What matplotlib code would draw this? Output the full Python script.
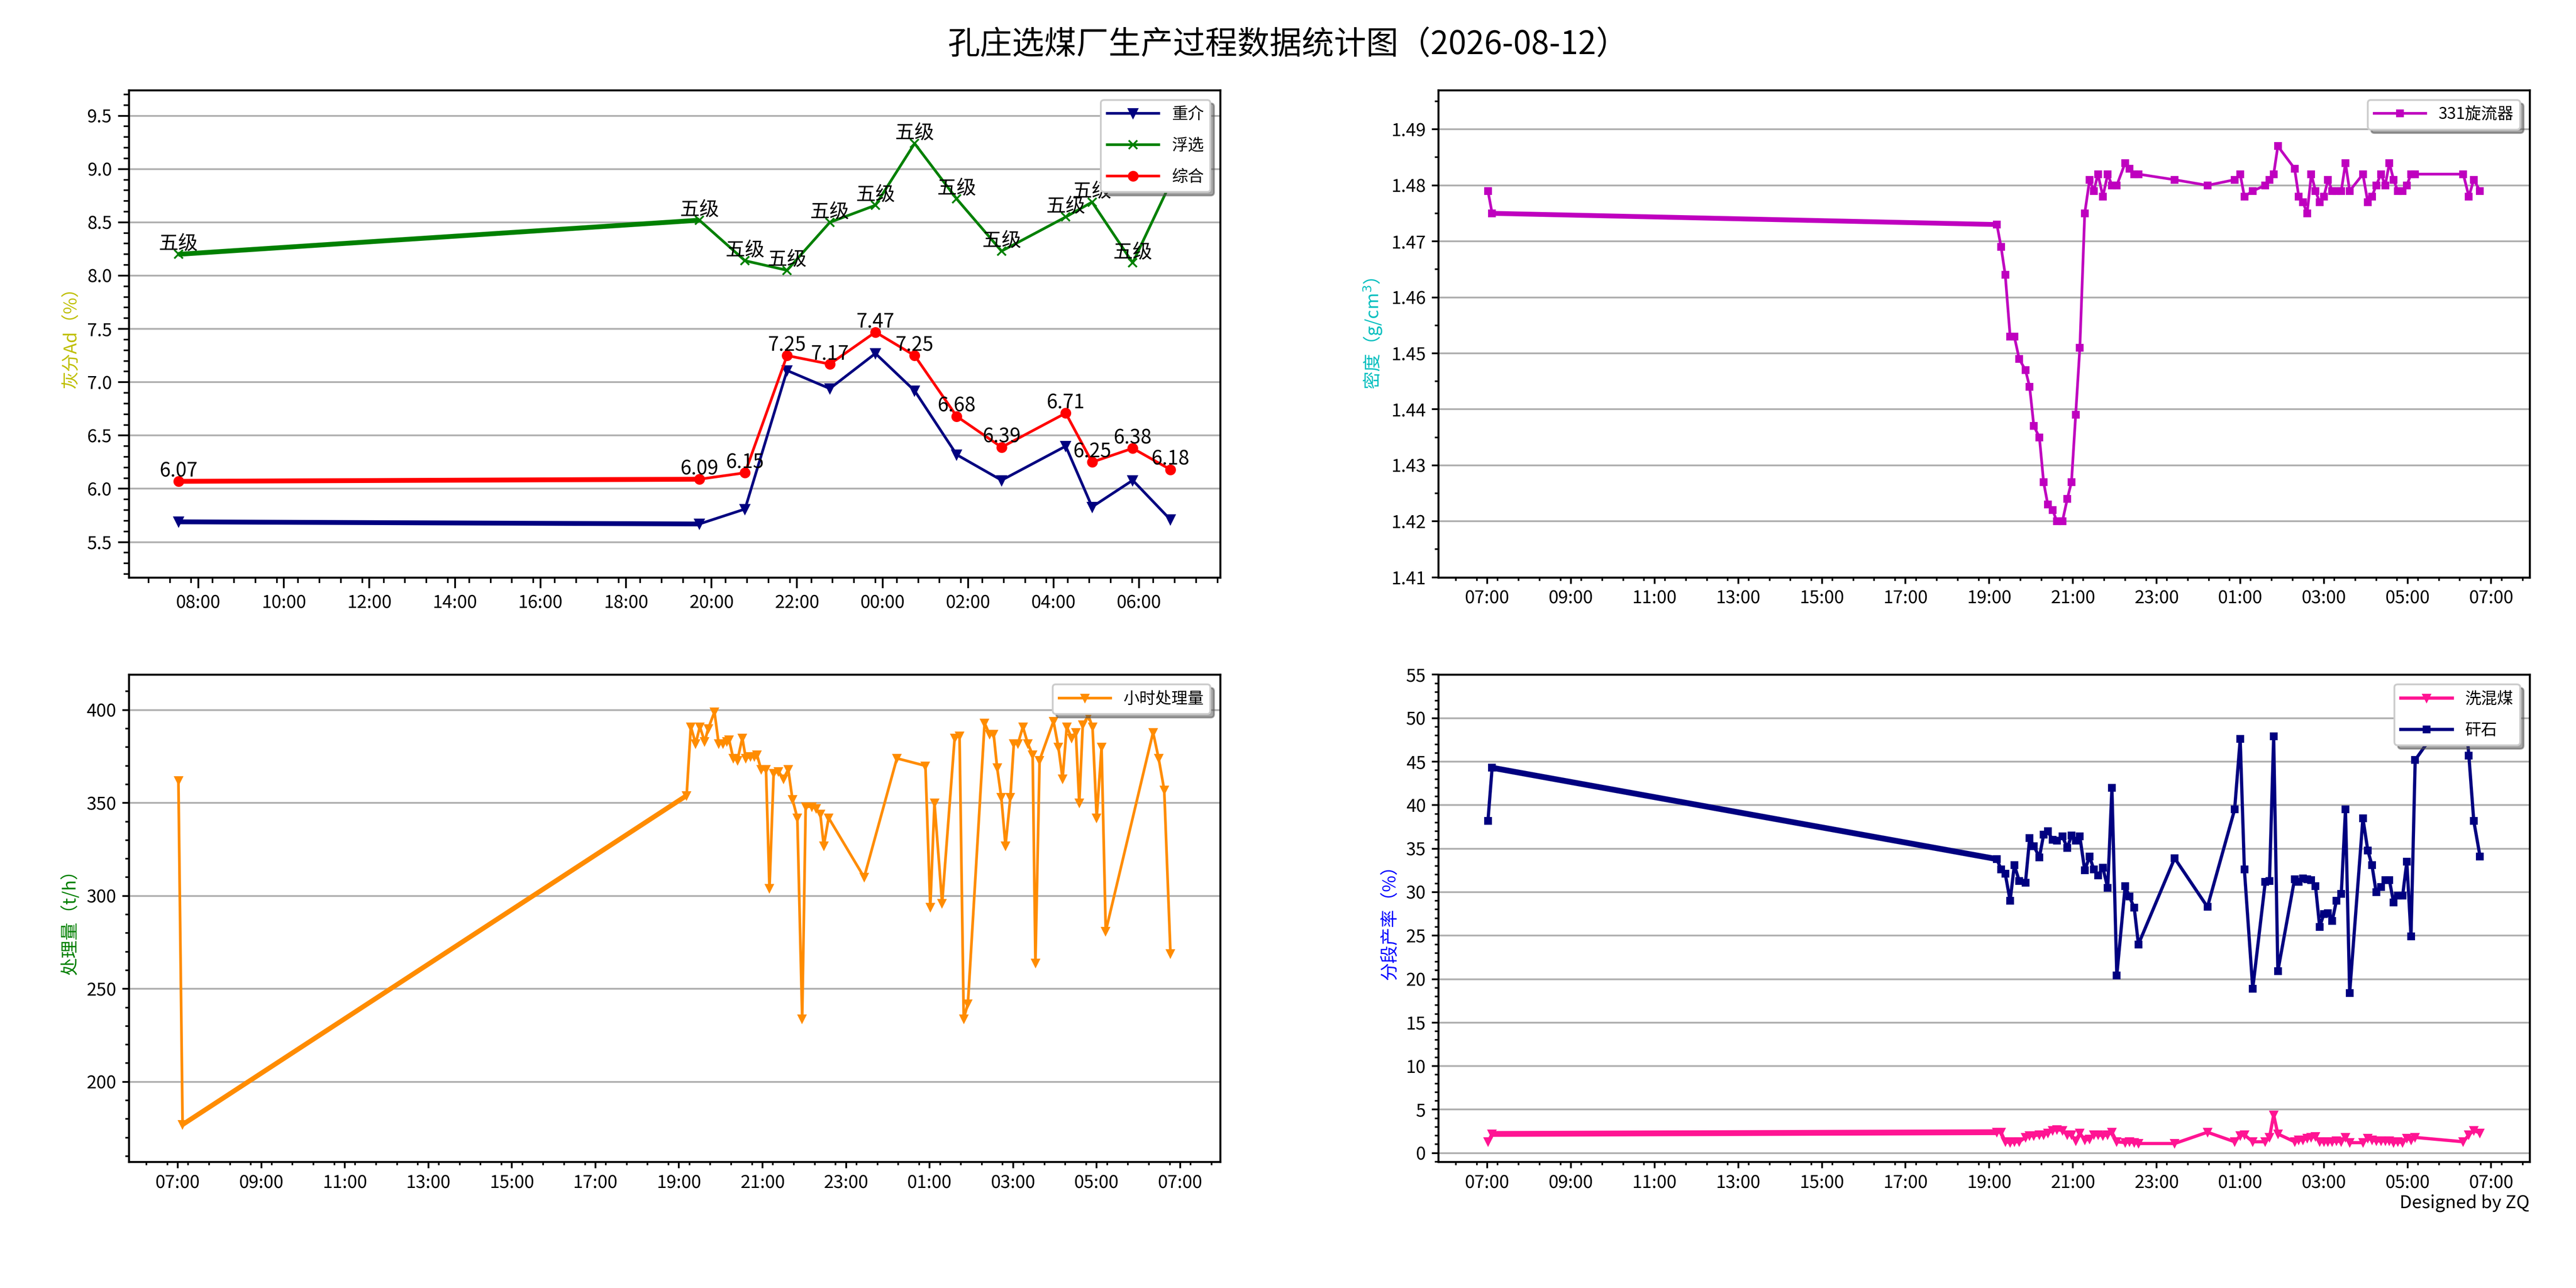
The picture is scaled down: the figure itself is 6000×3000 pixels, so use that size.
from datetime import datetime, timedelta

import matplotlib

matplotlib.use("Agg")
import matplotlib.dates as mdates
import matplotlib.pyplot as plt
from matplotlib.ticker import AutoMinorLocator, MultipleLocator

plt.rcParams["font.family"] = ["Noto Sans CJK SC", "DejaVu Sans"]
plt.rcParams["axes.unicode_minus"] = False

TITLE = "孔庄选煤厂生产过程数据统计图（2026-08-12）"
START_DAY = "2026-08-11"

# ---- 灰分 (top left) ----
ash_times = ["07:32", "19:43", "20:47", "21:46", "22:46", "23:50", "00:45",
             "01:44", "02:47", "04:17", "04:54", "05:51", "06:44"]
ash_heavy = [5.69, 5.67, 5.81, 7.11, 6.94, 7.27, 6.92, 6.32, 6.08, 6.40, 5.83, 6.08, 5.71]
ash_float = [8.20, 8.52, 8.14, 8.05, 8.50, 8.66, 9.24, 8.72, 8.23, 8.55, 8.69, 8.12, 8.87]
ash_total = [6.07, 6.09, 6.15, 7.25, 7.17, 7.47, 7.25, 6.68, 6.39, 6.71, 6.25, 6.38, 6.18]
float_grade = ["五级"] * len(ash_float)

# ---- 331旋流器 density and 分段产率 (right column, shared timestamps) ----
cyc_times = ["07:01", "07:07",
             "19:11", "19:17", "19:23", "19:30", "19:36", "19:43", "19:52", "19:58",
             "20:04", "20:12", "20:18", "20:24", "20:31", "20:37", "20:45", "20:52",
             "20:58", "21:04", "21:10", "21:17", "21:24", "21:30", "21:36", "21:43",
             "21:50", "21:56", "22:03", "22:15", "22:21", "22:28", "22:34", "23:26",
             "00:13", "00:52", "01:00", "01:06", "01:18", "01:36", "01:42", "01:48",
             "01:54", "02:18", "02:24", "02:30", "02:36", "02:42", "02:48", "02:54",
             "03:00", "03:06", "03:12", "03:18", "03:25", "03:31", "03:37", "03:56",
             "04:03", "04:09", "04:15", "04:22", "04:28", "04:34", "04:40", "04:46",
             "04:53", "04:59", "05:05", "05:11", "06:20", "06:28", "06:35", "06:44"]
density_331 = [1.479, 1.475,
               1.473, 1.469, 1.464, 1.453, 1.453, 1.449, 1.447, 1.444,
               1.437, 1.435, 1.427, 1.423, 1.422, 1.420, 1.420, 1.424,
               1.427, 1.439, 1.451, 1.475, 1.481, 1.479, 1.482, 1.478,
               1.482, 1.480, 1.480, 1.484, 1.483, 1.482, 1.482, 1.481,
               1.480, 1.481, 1.482, 1.478, 1.479, 1.480, 1.481, 1.482,
               1.487, 1.483, 1.478, 1.477, 1.475, 1.482, 1.479, 1.477,
               1.478, 1.481, 1.479, 1.479, 1.479, 1.484, 1.479, 1.482,
               1.477, 1.478, 1.480, 1.482, 1.480, 1.484, 1.481, 1.479,
               1.479, 1.480, 1.482, 1.482, 1.482, 1.478, 1.481, 1.479]
yield_mixed = [1.3, 2.2,
               2.4, 2.4, 1.3, 1.2, 1.3, 1.3, 1.8, 2.0,
               2.0, 2.1, 2.1, 2.3, 2.6, 2.7, 2.6, 2.1,
               2.1, 1.4, 2.3, 1.5, 1.6, 2.1, 2.1, 2.0,
               2.1, 2.4, 1.3, 1.2, 1.3, 1.2, 1.1, 1.1,
               2.4, 1.3, 2.0, 2.1, 1.3, 1.3, 1.8, 4.4,
               2.2, 1.3, 1.5, 1.5, 1.7, 1.8, 1.9, 1.3,
               1.3, 1.3, 1.3, 1.4, 1.3, 1.8, 1.2, 1.2,
               1.7, 1.5, 1.4, 1.4, 1.4, 1.4, 1.2, 1.3,
               1.2, 1.7, 1.5, 1.8, 1.3, 2.1, 2.6, 2.3]
yield_gangue = [38.2, 44.3,
                33.8, 32.6, 32.1, 29.0, 33.1, 31.3, 31.1, 36.2,
                35.3, 34.0, 36.6, 37.0, 36.0, 35.9, 36.4, 35.1,
                36.5, 35.9, 36.4, 32.5, 34.1, 32.6, 31.9, 32.8,
                30.5, 42.0, 20.4, 30.7, 29.5, 28.2, 24.0, 33.9,
                28.3, 39.5, 47.6, 32.6, 18.9, 31.2, 31.3, 47.9,
                20.9, 31.5, 31.2, 31.6, 31.5, 31.4, 30.7, 26.0,
                27.5, 27.6, 26.7, 29.0, 29.8, 39.5, 18.4, 38.5,
                34.8, 33.1, 30.0, 30.6, 31.4, 31.4, 28.8, 29.6,
                29.6, 33.5, 24.9, 45.2, 53.0, 45.7, 38.2, 34.1]

# ---- 小时处理量 (bottom left) ----
feed_times = ["07:01", "07:07",
              "19:11", "19:17", "19:24", "19:30", "19:37", "19:42", "19:51", "19:57",
              "20:03", "20:09", "20:12", "20:18", "20:24", "20:31", "20:36", "20:43",
              "20:48", "20:52", "20:58", "21:05", "21:10", "21:16", "21:23", "21:30",
              "21:37", "21:43", "21:50", "21:57", "22:02", "22:11", "22:17", "22:23",
              "22:28", "22:35", "23:26", "00:13", "00:54", "01:01", "01:07", "01:18",
              "01:36", "01:43", "01:49", "01:55", "02:19", "02:26", "02:32", "02:37",
              "02:43", "02:49", "02:56", "03:01", "03:07", "03:14", "03:21", "03:28",
              "03:32", "03:38", "03:58", "04:05", "04:11", "04:17", "04:24", "04:30",
              "04:35", "04:40", "04:48", "04:54", "05:00", "05:07", "05:13", "06:21",
              "06:29", "06:37", "06:46"]
feed_rate = [362, 177,
             354, 391, 382, 391, 383, 390, 399, 382,
             382, 383, 384, 374, 373, 385, 374, 375,
             375, 376, 368, 368, 304, 366, 367, 363,
             368, 352, 342, 234, 348, 348, 347, 344,
             327, 342, 310, 374, 370, 294, 350, 296,
             385, 386, 234, 242, 393, 387, 387, 369,
             353, 327, 353, 382, 382, 391, 382, 376,
             264, 373, 394, 380, 363, 391, 385, 388,
             350, 392, 397, 391, 342, 380, 281, 388,
             374, 357, 269]


def to_datetimes(labels, start=START_DAY):
    base = datetime.strptime(start, "%Y-%m-%d")
    out, day, prev = [], 0, None
    for s in labels:
        h, m = map(int, s.split(":"))
        if prev is not None and (h, m) < prev:
            day += 1
        prev = (h, m)
        out.append(base + timedelta(days=day, hours=h, minutes=m))
    return out


def plot_series(ax, times, values, lw=1.5, **kw):
    line, = ax.plot(times, values, lw=lw, **kw)
    # the long day-shift gap is drawn heavier in the original chart
    for i in range(len(times) - 1):
        if times[i + 1] - times[i] > timedelta(hours=6):
            ax.plot(times[i:i + 2], values[i:i + 2], lw=lw * 1.8,
                    color=line.get_color(), solid_capstyle="butt")
    return line


def style_axes(ax, odd_hours=True, minute_offsets=(15, 45), big_ticks=False):
    hours = range(1, 24, 2) if odd_hours else range(0, 24, 2)
    ax.xaxis.set_major_locator(mdates.HourLocator(byhour=hours))
    ax.xaxis.set_minor_locator(mdates.MinuteLocator(byminute=minute_offsets))
    ax.xaxis.set_major_formatter(mdates.DateFormatter("%H:%M"))
    ax.grid(axis="y", color="#b0b0b0", lw=1.0)
    ax.grid(axis="x", visible=False)
    major, minor = (6, 3) if big_ticks else (3.5, 2)
    ax.tick_params(which="major", length=major, width=1.0, labelsize=10)
    ax.tick_params(which="minor", length=minor, width=0.9)
    for sp in ax.spines.values():
        sp.set_linewidth(1.1)


def add_legend(ax):
    ax.legend(loc="upper right", fontsize=9, shadow=True, fancybox=True,
              framealpha=1, labelspacing=0.9, handlelength=3.2, handletextpad=0.8,
              borderaxespad=0.6)


fig, axes = plt.subplots(2, 2, figsize=(20, 10), dpi=300)
fig.subplots_adjust(left=0.05, right=0.982, top=0.93, bottom=0.098, wspace=0.2, hspace=0.2)
fig.suptitle(TITLE, fontsize=18, y=0.978)

# top left: ash
ax = axes[0, 0]
t_ash = to_datetimes(ash_times)
plot_series(ax, t_ash, ash_heavy, color="navy", marker="v", ms=5, label="重介")
plot_series(ax, t_ash, ash_float, color="green", marker="x", ms=5, label="浮选")
plot_series(ax, t_ash, ash_total, color="red", marker="o", ms=5, label="综合")
for t, v, g in zip(t_ash, ash_float, float_grade):
    ax.text(t, v, g, ha="center", va="bottom", fontsize=11)
for t, v in zip(t_ash, ash_total):
    ax.text(t, v, f"{v:.2f}", ha="center", va="bottom", fontsize=11)
all_ash = ash_heavy + ash_float + ash_total
ax.set_ylim(min(all_ash) - 0.5, max(all_ash) + 0.5)
ax.yaxis.set_major_locator(MultipleLocator(0.5))
ax.yaxis.set_minor_locator(AutoMinorLocator())
ax.set_ylabel("灰分Ad（%）", color="#bfbf00", fontsize=10)
style_axes(ax, odd_hours=False, minute_offsets=(20, 50), big_ticks=True)
add_legend(ax)

# top right: cyclone density
ax = axes[0, 1]
t_cyc = to_datetimes(cyc_times)
plot_series(ax, t_cyc, density_331, color="#bf00bf", marker="s", ms=3.5, label="331旋流器")
ax.set_ylim(min(density_331) - 0.01, max(density_331) + 0.01)
ax.yaxis.set_minor_locator(AutoMinorLocator(2))
ax.set_ylabel("密度（g/cm$^3$）", color="#00bfbf", fontsize=10)
style_axes(ax)
add_legend(ax)

# bottom left: hourly throughput
ax = axes[1, 0]
t_feed = to_datetimes(feed_times)
plot_series(ax, t_feed, feed_rate, color="darkorange", marker="v", ms=4, label="小时处理量")
ax.set_ylim(min(feed_rate) - 20, max(feed_rate) + 20)
ax.yaxis.set_minor_locator(AutoMinorLocator())
ax.set_ylabel("处理量（t/h）", color="green", fontsize=10)
style_axes(ax)
add_legend(ax)

# bottom right: section yield
ax = axes[1, 1]
plot_series(ax, t_cyc, yield_mixed, lw=1.8, color="deeppink", marker="v", ms=4, label="洗混煤")
plot_series(ax, t_cyc, yield_gangue, lw=1.8, color="navy", marker="s", ms=3.5, label="矸石")
ax.set_ylim(-1, 55)
ax.yaxis.set_major_locator(MultipleLocator(5))
ax.yaxis.set_minor_locator(AutoMinorLocator())
ax.set_ylabel("分段产率（%）", color="blue", fontsize=10)
style_axes(ax)
add_legend(ax)

fig.text(0.982, 0.066, "Designed by ZQ", ha="right", va="center", fontsize=10)

fig.savefig("out.png", dpi=300)
